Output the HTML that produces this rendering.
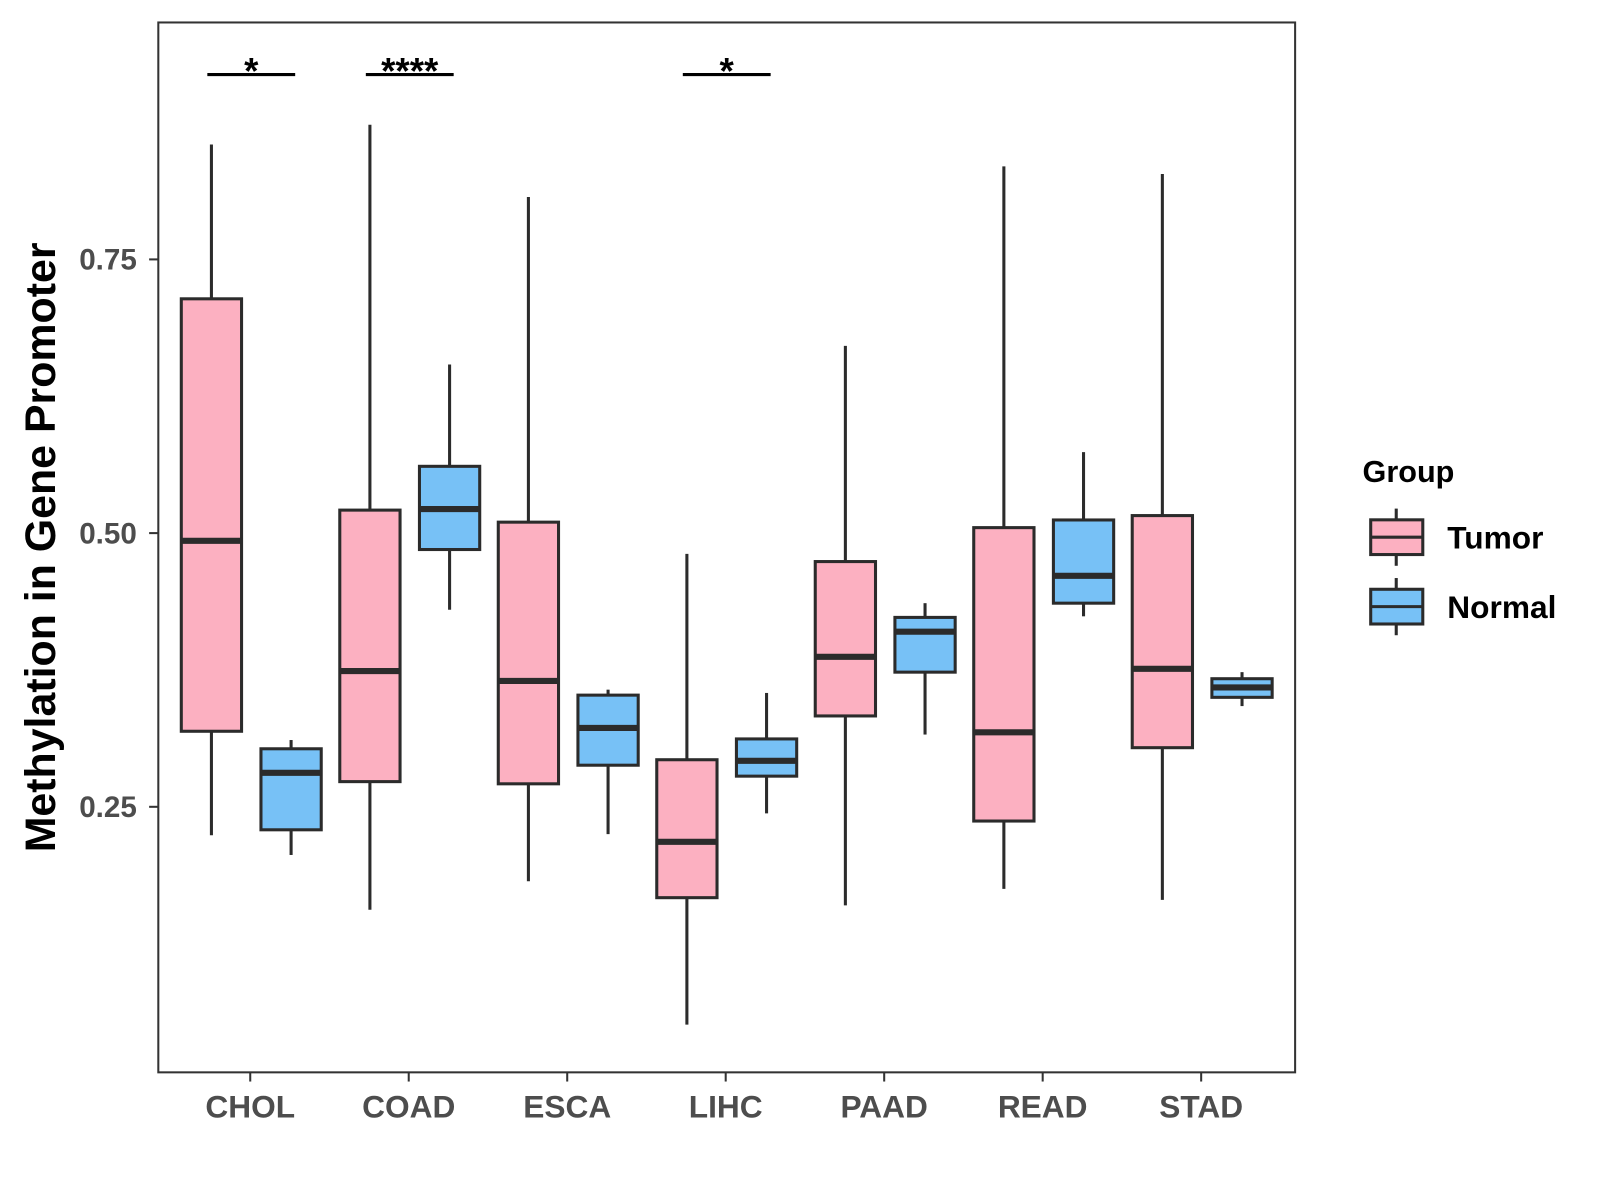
<!DOCTYPE html>
<html><head><meta charset="utf-8"><style>
html,body{margin:0;padding:0;background:#fff;}
svg{display:block;font-family:"Liberation Sans",Arial,sans-serif;}
</style></head><body>
<svg id="chart" width="1600" height="1200" viewBox="0 0 1566.5 1175" preserveAspectRatio="none">
<rect x="155" y="22" width="1113" height="1028" fill="#fff" stroke="#333" stroke-width="2"/>
<g id="boxes"></g>
<g id="axes"></g>
<text x="40" y="536" transform="rotate(-90 40 536)" text-anchor="middle" dominant-baseline="central" font-size="42" font-weight="bold" fill="#000">Methylation in Gene Promoter</text>
<g>
<text x="1334" y="472" font-size="30" font-weight="bold">Group</text>
<g>
<line x1="1367" y1="498" x2="1367" y2="554" stroke="#2b2b2b" stroke-width="3"/>
<rect x="1342" y="509" width="51" height="34" fill="#fcb0c1" stroke="#2b2b2b" stroke-width="3"/>
<line x1="1342" y1="526" x2="1393" y2="526" stroke="#2b2b2b" stroke-width="3"/>
<text x="1417" y="537" font-size="31" font-weight="bold">Tumor</text></g>
<g>
<line x1="1367" y1="566" x2="1367" y2="622" stroke="#2b2b2b" stroke-width="3"/>
<rect x="1342" y="577" width="51" height="34" fill="#77c1f6" stroke="#2b2b2b" stroke-width="3"/>
<line x1="1342" y1="594" x2="1393" y2="594" stroke="#2b2b2b" stroke-width="3"/>
<text x="1417" y="605" font-size="31" font-weight="bold">Normal</text></g>
</g>
</svg>
<script>
const categories=["CHOL","COAD","ESCA","LIHC","PAAD","READ","STAD"];
const tumorLow=[0.224,0.156,0.182,0.051,0.160,0.175,0.165];
const tumorQ1=[0.319,0.273,0.271,0.167,0.333,0.237,0.304];
const tumorMed=[0.493,0.374,0.365,0.218,0.387,0.318,0.376];
const tumorQ3=[0.714,0.521,0.510,0.293,0.474,0.505,0.516];
const tumorHigh=[0.855,0.873,0.807,0.481,0.671,0.835,0.828];
const normalLow=[0.206,0.430,0.225,0.244,0.316,0.424,0.342];
const normalQ1=[0.229,0.485,0.288,0.278,0.373,0.436,0.350];
const normalMed=[0.281,0.522,0.322,0.292,0.410,0.461,0.359];
const normalQ3=[0.303,0.561,0.352,0.312,0.423,0.512,0.367];
const normalHigh=[0.311,0.654,0.357,0.354,0.436,0.574,0.373];
const yTicks=[0.25,0.5,0.75];
const yTickLabels=["0.25","0.50","0.75"];
const sigCats=["CHOL","COAD","LIHC"];
const sigLabels=["*","****","*"];

const NS="http://www.w3.org/2000/svg";
const yS=v=>522-(v-0.5)*1072;
const xS=i=>245+i*155.17;
function mk(tag,attrs,parent){const e=document.createElementNS(NS,tag);for(const k in attrs)e.setAttribute(k,attrs[k]);parent.appendChild(e);return e;}
const boxes=document.getElementById('boxes'),axes=document.getElementById('axes');
function drawBox(cx,lo,q1,md,q3,hi,fill,name){
  const g=mk('g',{},boxes);
  
  
  const w=59,st='#2b2b2b';
  mk('line',{x1:cx,x2:cx,y1:yS(hi),y2:yS(q3),stroke:st,'stroke-width':3},g);
  mk('line',{x1:cx,x2:cx,y1:yS(q1),y2:yS(lo),stroke:st,'stroke-width':3},g);
  mk('rect',{x:cx-w/2,y:yS(q3),width:w,height:yS(q1)-yS(q3),fill:fill,stroke:st,'stroke-width':3},g);
  mk('line',{x1:cx-w/2,x2:cx+w/2,y1:yS(md),y2:yS(md),stroke:st,'stroke-width':6},g);
}
categories.forEach((c,i)=>{
  drawBox(xS(i)-38,tumorLow[i],tumorQ1[i],tumorMed[i],tumorQ3[i],tumorHigh[i],'#fcb0c1','box-'+c.toLowerCase()+'-tumor');
  drawBox(xS(i)+40,normalLow[i],normalQ1[i],normalMed[i],normalQ3[i],normalHigh[i],'#77c1f6','box-'+c.toLowerCase()+'-normal');
  const t=mk('line',{x1:xS(i),x2:xS(i),y1:1050,y2:1059,stroke:'#333','stroke-width':2},axes);
  
  
  const l=mk('text',{x:xS(i),y:1094,'text-anchor':'middle','font-size':31,'font-weight':'bold',fill:'#4d4d4d'},axes);
  l.textContent=c;
  
  
});
yTicks.forEach((v,i)=>{
  const t=mk('line',{x1:146,x2:155,y1:yS(v),y2:yS(v),stroke:'#333','stroke-width':2},axes);
  
  
  const l=mk('text',{x:134,y:yS(v)+10,'text-anchor':'end','font-size':29,'font-weight':'bold',fill:'#4d4d4d'},axes);
  l.textContent=yTickLabels[i];
  
  
});
sigCats.forEach((c,k)=>{
  const i=categories.indexOf(c);
  const ln=mk('line',{x1:xS(i)-42,x2:xS(i)+44,y1:73,y2:73,stroke:'#000','stroke-width':3},axes);
  
  
  const s=mk('text',{x:xS(i)+1,y:82,'text-anchor':'middle','font-size':36,'font-weight':'bold',fill:'#000'},axes);
  s.textContent=sigLabels[k];
  
  
});
</script>
</body></html>
